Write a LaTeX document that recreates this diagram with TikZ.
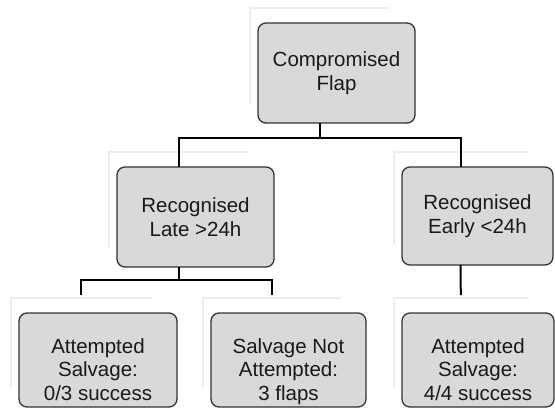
\documentclass[tikz,border=0pt]{standalone}
\usepackage{fontspec}
\setmainfont{Liberation Sans}
\usetikzlibrary{calc}
\newcommand{\lineWidth}{2pt}
\newcommand{\boxLine}{1.3pt}
\newcommand{\boxRadius}{8pt}
\newcommand{\stemShift}{-17pt}
\newcommand{\stemGap}{18pt}
\tikzstyle{panel}=[draw=black!80, line width=\boxLine, fill=black!15, rounded corners=\boxRadius, inner sep=0, outer sep=0, align=center, text=black!90, font=\fontsize{20.5}{23.5}\selectfont]
\tikzstyle{leaf}=[panel, minimum height=94pt, text height=87pt, text depth=7pt]
\tikzstyle{line}=[draw=black, line width=\lineWidth]
\tikzstyle{ghost}=[draw=black!7, line width=1.5pt]

\begin{document}
\begin{tikzpicture}[x=1pt, y=-1pt]

% Frame
\useasboundingbox (0,0) rectangle (555,408);

% Boxes
\node[panel, minimum width=157pt, minimum height=100pt] (flap) at (336.5,73) {Compromised\\Flap};
\node[panel, minimum width=157pt, minimum height=100pt] (late) at (195.5,217) {Recognised\\Late >24h};
\node[panel, minimum width=151pt, minimum height=98pt] (early) at (477.5,216) {Recognised\\Early <24h};
\node[leaf, minimum width=158pt] (salvLate) at (98,360) {Attempted\\Salvage:\\0/3 success};
\node[leaf, minimum width=155pt] (noSalv) at (288.5,360) {Salvage Not\\Attempted:\\3 flaps};
\node[leaf, minimum width=152pt] (salvEarly) at (478,360) {Attempted\\Salvage:\\4/4 success};

% Faint scan traces
\foreach \n in {flap,late,early,salvLate,noSalv,salvEarly} {
  \draw[ghost] ([xshift=-8pt, yshift=20pt]\n.south west) |- ([xshift=-25pt, yshift=15pt]\n.north east);
  }

% Tree lines
\draw[line] ([xshift=\stemShift]flap.south) -- ++(0,15) coordinate (hubTop);
\draw[line] (hubTop) -| ([xshift=\stemShift]late.north);
\draw[line] (hubTop) -| ([xshift=\stemShift]early.north);
\draw[line] ([xshift=\stemShift]late.south) -- ++(0,13) coordinate (hubLate);
\draw[line, shorten >=\stemGap] (hubLate) -| ([xshift=\stemShift]salvLate.north);
\draw[line, shorten >=\stemGap] (hubLate) -| ([xshift=\stemShift]noSalv.north);
\draw[line, shorten >=\stemGap] ([xshift=\stemShift]early.south) -- ([xshift=\stemShift]salvEarly.north);

\end{tikzpicture}
\end{document}
